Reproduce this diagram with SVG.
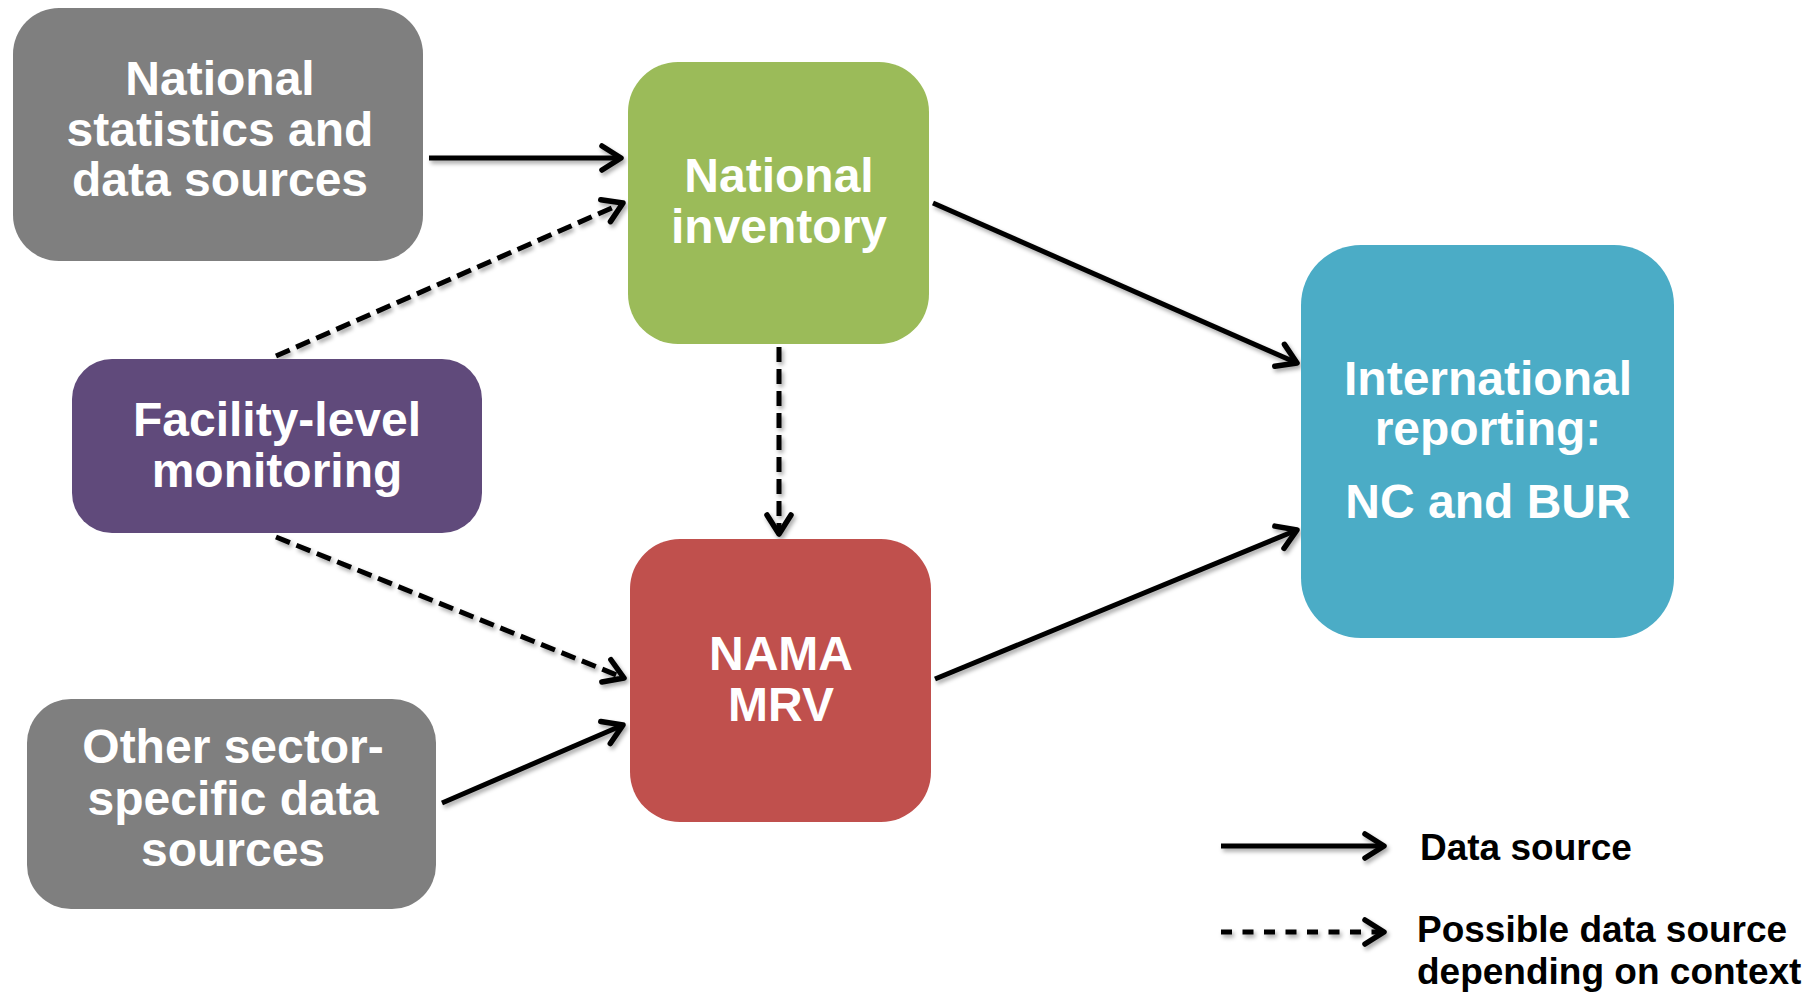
<svg xmlns="http://www.w3.org/2000/svg" width="1812" height="993" viewBox="0 0 1812 993">
  <style>
    .lbl { font-family: "Liberation Sans", Arial, sans-serif; font-weight: bold; font-size: 48px; fill: #ffffff; text-anchor: middle; }
    .leg { font-family: "Liberation Sans", Arial, sans-serif; font-weight: bold; font-size: 37px; fill: #000000; }
    .conn { stroke: #000000; stroke-width: 5; fill: none; }
    .solid { marker-end: url(#arrow); }
    .dash { stroke-dasharray: 15 7; marker-end: url(#arrow); }
    .legdash { stroke-dasharray: 11 10.5; marker-end: url(#arrow); }
  </style>
  <defs>
    <marker id="arrow" markerUnits="userSpaceOnUse" markerWidth="40" markerHeight="40" refX="0" refY="0" orient="auto" overflow="visible">
      <path d="M-19,-12 L0,0 L-19,12" fill="none" stroke="#000000" stroke-width="5.5" stroke-linecap="round" stroke-linejoin="round" stroke-dasharray="none"/>
    </marker>
    <filter id="shadow" x="-10%" y="-10%" width="120%" height="130%">
      <feDropShadow dx="2" dy="3" stdDeviation="2" flood-color="#000000" flood-opacity="0.35"/>
    </filter>
  </defs>
  <rect width="1812" height="993" fill="#ffffff"/>

  <g id="connectors" filter="url(#shadow)">
    <line class="conn solid" x1="429" y1="158" x2="621" y2="158"/>
    <line class="conn dash" x1="276" y1="356" x2="623" y2="203"/>
    <line class="conn dash" x1="779" y1="347" x2="779" y2="534"/>
    <line class="conn dash" x1="276" y1="537" x2="624" y2="678"/>
    <line class="conn solid" x1="442" y1="803" x2="623" y2="725"/>
    <line class="conn solid" x1="933" y1="203" x2="1297" y2="363"/>
    <line class="conn solid" x1="935" y1="679" x2="1297" y2="530"/>
    <line class="conn solid" x1="1221" y1="846" x2="1384" y2="846"/>
    <line class="conn legdash" x1="1221" y1="932" x2="1384" y2="932"/>
  </g>

  <g id="node-national-statistics">
    <rect x="13" y="8" width="410" height="253" rx="46" ry="46" fill="#7f7f7f"/>
    <text class="lbl" x="220" y="95">National</text>
    <text class="lbl" x="220" y="146">statistics and</text>
    <text class="lbl" x="220" y="196">data sources</text>
  </g>

  <g id="node-national-inventory">
    <rect x="628" y="62" width="301" height="282" rx="50" ry="50" fill="#9bbb59"/>
    <text class="lbl" x="779" y="192">National</text>
    <text class="lbl" x="779" y="243">inventory</text>
  </g>

  <g id="node-facility-level">
    <rect x="72" y="359" width="410" height="174" rx="40" ry="40" fill="#604a7b"/>
    <text class="lbl" x="277" y="436">Facility-level</text>
    <text class="lbl" x="277" y="487">monitoring</text>
  </g>

  <g id="node-nama-mrv">
    <rect x="630" y="539" width="301" height="283" rx="50" ry="50" fill="#c0504d"/>
    <text class="lbl" x="781" y="670">NAMA</text>
    <text class="lbl" x="781" y="721">MRV</text>
  </g>

  <g id="node-other-sector">
    <rect x="27" y="699" width="409" height="210" rx="44" ry="44" fill="#7f7f7f"/>
    <text class="lbl" x="233" y="763">Other sector-</text>
    <text class="lbl" x="233" y="815">specific data</text>
    <text class="lbl" x="233" y="866">sources</text>
  </g>

  <g id="node-international-reporting">
    <rect x="1301" y="245" width="373" height="393" rx="60" ry="60" fill="#4bacc6"/>
    <text class="lbl" x="1488" y="395">International</text>
    <text class="lbl" x="1488" y="445">reporting:</text>
    <text class="lbl" x="1488" y="518">NC and BUR</text>
  </g>

  <g id="legend">
    <text class="leg" x="1420" y="860">Data source</text>
    <text class="leg" x="1417" y="942">Possible data source</text>
    <text class="leg" x="1417" y="984">depending on context</text>
  </g>
</svg>
